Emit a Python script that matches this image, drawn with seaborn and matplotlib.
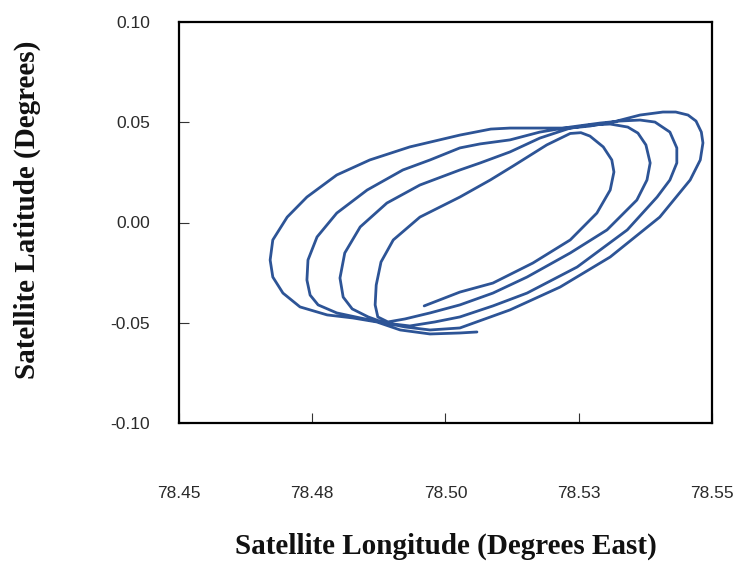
import numpy as np
import pandas as pd
import matplotlib
matplotlib.use("Agg")
import matplotlib.pyplot as plt
import seaborn as sns

# ---- data: satellite ground track (longitude E, latitude) ----
lon_loop1 = [78.4960, 78.5027, 78.5089, 78.5164, 78.5234, 78.5284, 78.5309, 78.5316,
             78.5312, 78.5296, 78.5271, 78.5254, 78.5234, 78.5190, 78.5127, 78.5084,
             78.5027, 78.4952, 78.4902, 78.4879, 78.4870, 78.4868, 78.4873, 78.4892]
lat_loop1 = [-0.0416, -0.0347, -0.0302, -0.0202, -0.0087, 0.0047, 0.0162, 0.0252,
             0.0312, 0.0377, 0.0431, 0.0448, 0.0444, 0.0387, 0.0282, 0.0212,
             0.0127, 0.0027, -0.0087, -0.0197, -0.0312, -0.0411, -0.0471, -0.0496]

lon_loop2 = [78.4924, 78.4971, 78.5027, 78.5089, 78.5153, 78.5234, 78.5303, 78.5359,
             78.5378, 78.5384, 78.5376, 78.5361, 78.5342, 78.5309, 78.5271, 78.5234,
             78.5177, 78.5121, 78.5065, 78.5027, 78.4952, 78.4890, 78.4840, 78.4811,
             78.4802, 78.4808, 78.4825, 78.4855, 78.4886]
lat_loop2 = [-0.0481, -0.0451, -0.0411, -0.0352, -0.0272, -0.0152, -0.0037, 0.0112,
             0.0212, 0.0297, 0.0387, 0.0446, 0.0476, 0.0491, 0.0486, 0.0471,
             0.0421, 0.0352, 0.0297, 0.0262, 0.0187, 0.0097, -0.0022, -0.0152,
             -0.0277, -0.0372, -0.0431, -0.0471, -0.0501]

lon_loop3 = [78.4933, 78.4980, 78.5027, 78.5089, 78.5153, 78.5247, 78.5341, 78.5397,
             78.5421, 78.5434, 78.5434, 78.5421, 78.5393, 78.5365, 78.5327, 78.5290,
             78.5234, 78.5177, 78.5121, 78.5065, 78.5027, 78.4971, 78.4920, 78.4853,
             78.4796, 78.4759, 78.4742, 78.4740, 78.4746, 78.4761, 78.4796, 78.4840,
             78.4877]
lat_loop3 = [-0.0516, -0.0496, -0.0471, -0.0416, -0.0352, -0.0222, -0.0037, 0.0127,
             0.0212, 0.0297, 0.0372, 0.0451, 0.0501, 0.0511, 0.0506, 0.0496,
             0.0476, 0.0451, 0.0412, 0.0392, 0.0372, 0.0312, 0.0262, 0.0162,
             0.0047, -0.0072, -0.0187, -0.0287, -0.0362, -0.0411, -0.0451, -0.0476,
             -0.0496]

lon_loop4 = [78.4924, 78.4971, 78.5027, 78.5121, 78.5215, 78.5309, 78.5402, 78.5459,
             78.5478, 78.5483, 78.5480, 78.5470, 78.5455, 78.5432, 78.5408, 78.5365,
             78.5314, 78.5271, 78.5234, 78.5177, 78.5121, 78.5085, 78.5027, 78.4933,
             78.4858, 78.4796, 78.4740, 78.4703, 78.4676, 78.4671, 78.4676, 78.4695,
             78.4727, 78.4778, 78.4826, 78.4871, 78.4915, 78.4971, 78.5027, 78.5059]
lat_loop4 = [-0.0521, -0.0536, -0.0526, -0.0436, -0.0322, -0.0172, 0.0027, 0.0212,
             0.0312, 0.0397, 0.0451, 0.0506, 0.0536, 0.0551, 0.0551, 0.0536,
             0.0501, 0.0481, 0.0471, 0.0471, 0.0471, 0.0466, 0.0436, 0.0377,
             0.0312, 0.0237, 0.0127, 0.0027, -0.0087, -0.0187, -0.0272, -0.0352,
             -0.0421, -0.0461, -0.0476, -0.0496, -0.0536, -0.0556, -0.0551, -0.0546]

x_ticks = [78.45, 78.475, 78.50, 78.525, 78.55]
x_tick_labels = ["78.45", "78.48", "78.50", "78.53", "78.55"]
y_ticks = [-0.10, -0.05, 0.00, 0.05, 0.10]
y_tick_labels = ["-0.10", "-0.05", "0.00", "0.05", "0.10"]

lon = lon_loop1 + lon_loop2 + lon_loop3 + lon_loop4
lat = lat_loop1 + lat_loop2 + lat_loop3 + lat_loop4
df = pd.DataFrame({"lon": lon, "lat": lat})

sns.set_theme(style="white")
plt.rcParams["font.family"] = ["Liberation Sans", "DejaVu Sans"]

fig = plt.figure(figsize=(7.48, 5.70), dpi=100)
ax = fig.add_axes([179 / 748, 1 - 423 / 570, 533 / 748, 401 / 570])

sns.lineplot(data=df, x="lon", y="lat", sort=False, estimator=None,
             color="#2d5496", linewidth=2.0, ax=ax,
             solid_joinstyle="round", solid_capstyle="round")

ax.set_xlim(78.45, 78.55)
ax.set_ylim(-0.10, 0.10)
ax.set_xticks(x_ticks)
ax.set_xticklabels(x_tick_labels)
ax.set_yticks(y_ticks)
ax.set_yticklabels(y_tick_labels)

ax.tick_params(axis="x", direction="in", length=7, width=0.8, color="#333333",
               pad=45, labelsize=12.5, labelcolor="#2a2a2a")
ax.tick_params(axis="y", direction="in", length=7, width=0.8, color="#333333",
               pad=21, labelsize=12.5, labelcolor="#2a2a2a")
ax.tick_params(top=False, right=False, bottom=True, left=True)

for s in ax.spines.values():
    s.set_color("black")
    s.set_linewidth(1.6)

ax.grid(False)
ax.set_facecolor("white")

ax.set_xlabel("Satellite Longitude (Degrees East)", fontsize=21, fontweight="bold",
              family=["Liberation Serif", "DejaVu Serif"], color="#111111")
ax.set_ylabel("Satellite Latitude (Degrees)", fontsize=21, fontweight="bold",
              family=["Liberation Serif", "DejaVu Serif"], color="#111111")
ax.xaxis.set_label_coords(0.5, (423 - 533) / 401)
ax.yaxis.set_label_coords((41 - 179) / 533, 1 - (210 - 22) / 401)

fig.savefig("out.png", dpi=100, facecolor="white")
